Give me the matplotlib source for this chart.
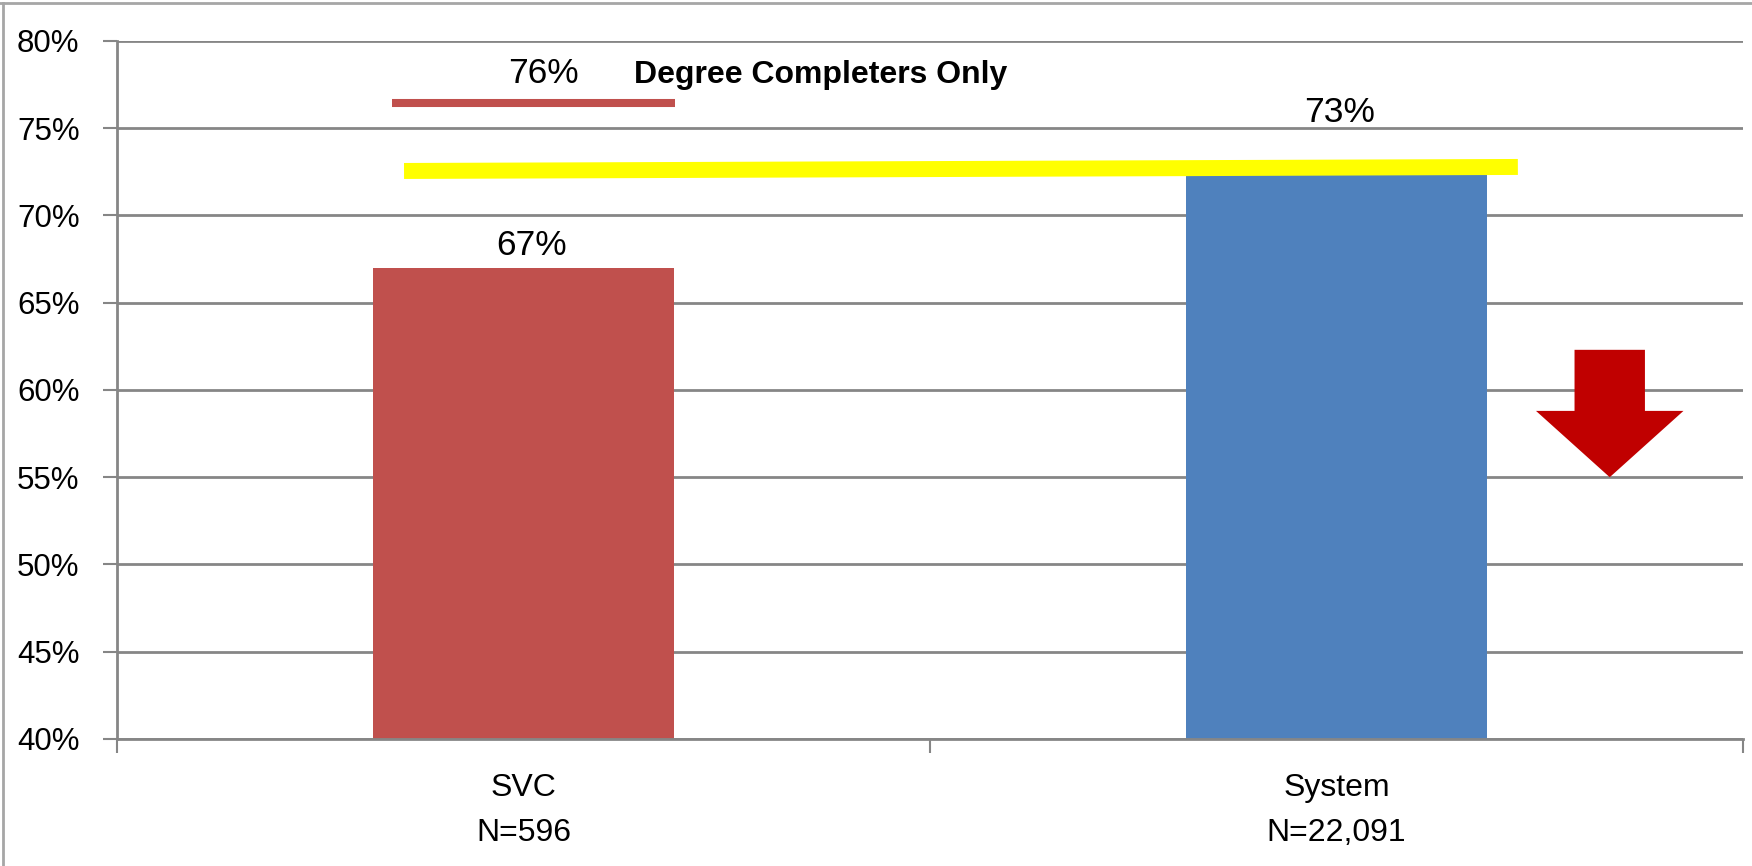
import matplotlib.pyplot as plt
from matplotlib.lines import Line2D

plt.rcParams['font.family'] = ['Liberation Sans', 'DejaVu Sans']

# data
names = ['SVC', 'System']
counts = ['N=596', 'N=22,091']
values = [67, 73]
bar_colors = ['#C0504D', '#4F81BD']
label_text = ['67%', '73%']
label_x = [0.01, 1.004]
label_y = [67.74, 75.36]   # baselines of the data labels

# degree completers only (SVC)
degree_value = 76
degree_line_x = [-0.162, 0.186]
degree_line_y = [76.45, 76.45]

# system reference line (hand drawn, slightly tilted)
system_line_x = [-0.147, 1.223]
system_line_y = [72.55, 72.78]

yticks = [40, 45, 50, 55, 60, 65, 70, 75, 80]

fig = plt.figure(figsize=(17.52, 8.66), dpi=100)
ax = fig.add_axes([0.0668, 0.1467, 0.9281, 0.806])

x = list(range(len(names)))
ax.bar(x, [v - 40 for v in values], bottom=40, width=0.371, color=bar_colors, zorder=2)

ax.set_xlim(-0.5, 1.5)
ax.set_ylim(40, 80)
ax.set_yticks(yticks)
ax.set_yticklabels([f'{t}%' for t in yticks], fontsize=22.5)
ax.grid(axis='y', color='#868686', linewidth=2, zorder=0)
ax.set_axisbelow(True)

# ticks at category boundaries, category text written below
ax.set_xticks([-0.5, 0.5, 1.5])
ax.set_xticklabels([])
ax.tick_params(axis='x', length=10, width=1.5, color='#868686')
ax.tick_params(axis='y', length=10, width=1.5, color='#868686', pad=17)
xt = ax.get_xaxis_transform()
for xi, n, c in zip(x, names, counts):
    ax.text(xi, -0.0824, n, transform=xt, ha='center', va='baseline', fontsize=23)
    ax.text(xi, -0.1468, c, transform=xt, ha='center', va='baseline', fontsize=23)

for s in ['top', 'right']:
    ax.spines[s].set_visible(False)
for s in ['left', 'bottom']:
    ax.spines[s].set_color('#868686')
    ax.spines[s].set_linewidth(2)

for lx, t, ly in zip(label_x, label_text, label_y):
    ax.text(lx, ly, t, ha='center', va='baseline', fontsize=25.5, zorder=5)

# degree completers marker
ax.plot(degree_line_x, degree_line_y, color='#C0504D', linewidth=5.8,
        solid_capstyle='butt', zorder=4)
ax.text(0.025, 77.6, f'{degree_value}%', ha='center', va='baseline', fontsize=25.5)
ax.text(0.136, 77.6, 'Degree Completers Only', ha='left', va='baseline',
        fontsize=23, fontweight='bold')

# yellow system line
ax.plot(system_line_x, system_line_y, color='#FFFF00', linewidth=11.5,
        solid_capstyle='butt', zorder=4, clip_on=False)

# red down arrow
ax.arrow(1.336, 62.3, 0, -7.3, width=0.0866, head_width=0.1814, head_length=3.8,
         length_includes_head=True, color='#C00000', linewidth=0, zorder=5)

# chart frame
fig.add_artist(Line2D([0.0015, 0.0015], [0, 0.997], color='#A6A6A6', linewidth=2))
fig.add_artist(Line2D([0, 1], [0.997, 0.997], color='#A6A6A6', linewidth=2))

fig.savefig('out.png', dpi=100)
